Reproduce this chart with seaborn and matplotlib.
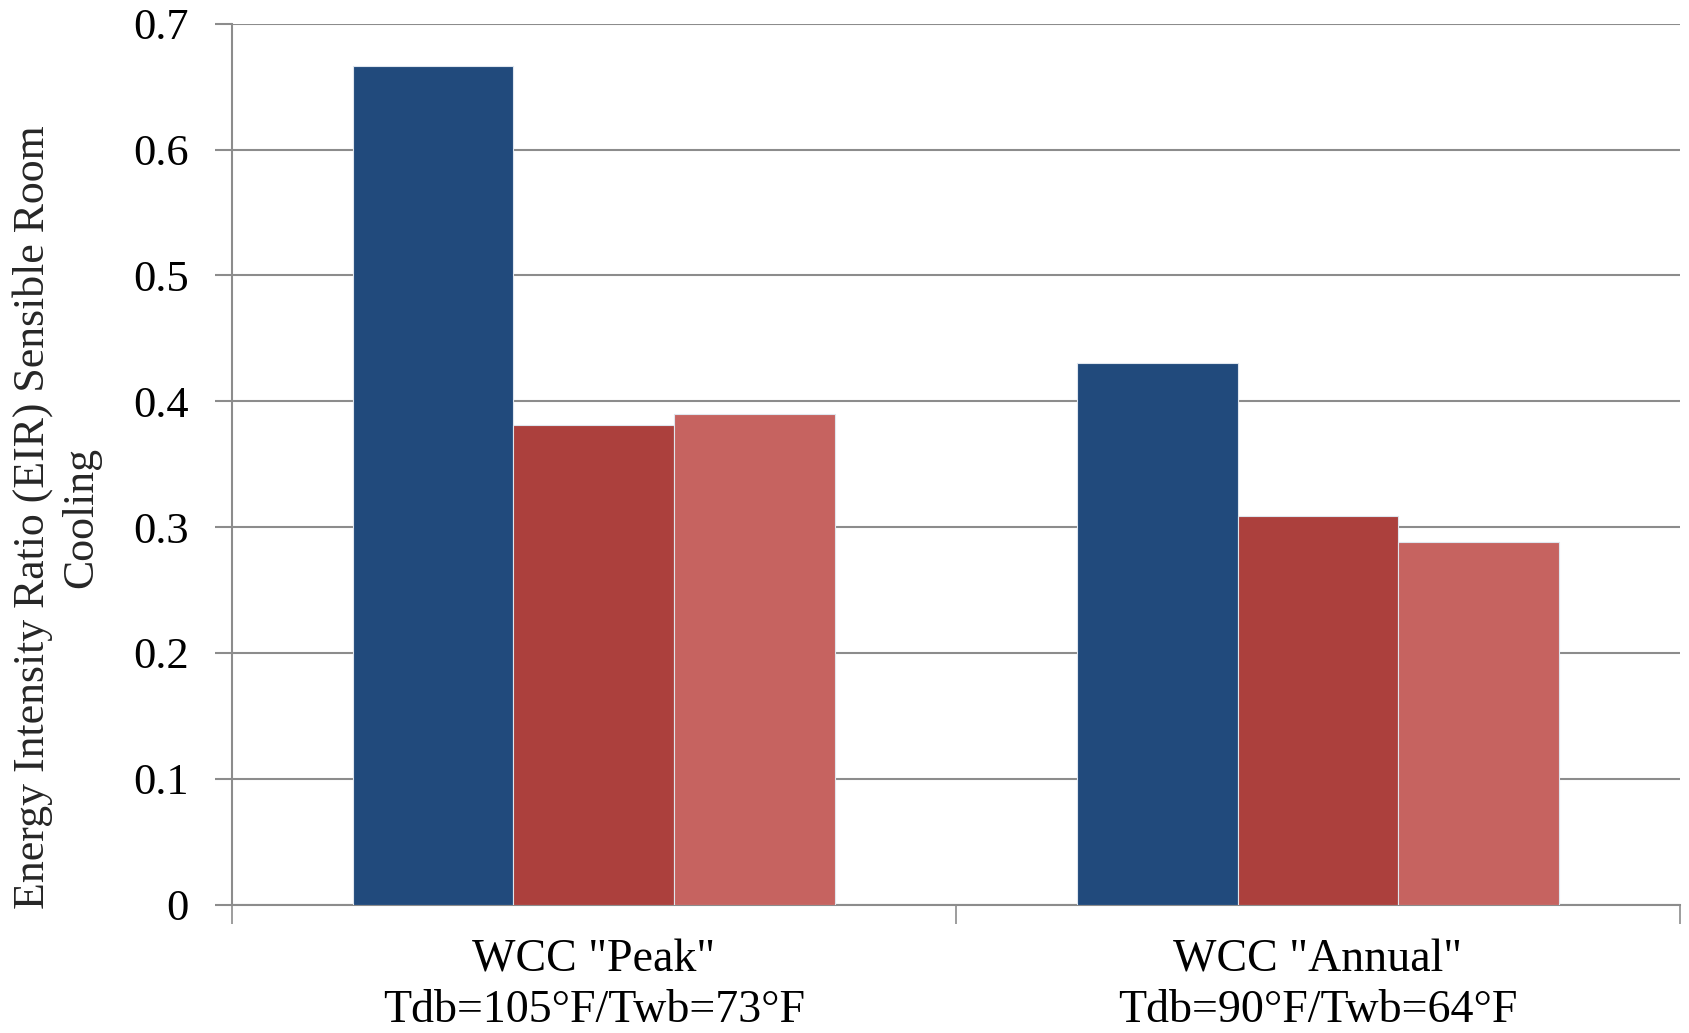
import pandas as pd
import matplotlib
matplotlib.use('Agg')
import matplotlib.pyplot as plt
import seaborn as sns

# 데이터
categories = ['WCC "Peak"\nTdb=105°F/Twb=73°F', 'WCC "Annual"\nTdb=90°F/Twb=64°F']
series_names = ['Series 1', 'Series 2', 'Series 3']
series_1 = [0.666, 0.430]
series_2 = [0.381, 0.309]
series_3 = [0.390, 0.288]
colors = ['#214A7C', '#AC403D', '#C66360']
yticks = [0, 0.1, 0.2, 0.3, 0.4, 0.5, 0.6, 0.7]
ytick_labels = ['0', '0.1', '0.2', '0.3', '0.4', '0.5', '0.6', '0.7']

rows = []
for name, vals in zip(series_names, [series_1, series_2, series_3]):
    for cat, v in zip(categories, vals):
        rows.append({'category': cat, 'series': name, 'value': v})
df = pd.DataFrame(rows)

sns.set_style('white')
plt.rcParams['font.family'] = ['Liberation Serif', 'DejaVu Serif']
plt.rcParams['text.color'] = 'black'

fig = plt.figure(figsize=(16.89, 10.33), dpi=100)
ax = fig.add_axes([0.1371, 0.1243, 0.9947 - 0.1371, 0.9771 - 0.1243])

sns.barplot(data=df, x='category', y='value', hue='series', palette=colors,
            width=0.666, gap=0, saturation=1, legend=False, ax=ax,
            edgecolor='#dfe6ee', linewidth=0.8, zorder=3)

ax.set_ylim(0, 0.7)
ax.set_xlim(-0.5, 1.5)
ax.set_yticks(yticks)
ax.set_yticklabels(ytick_labels, fontsize=32)
ax.yaxis.grid(True, color='#8c8c8c', linewidth=1.5, zorder=0)
ax.set_axisbelow(True)

for s in ['top', 'right']:
    ax.spines[s].set_visible(False)
for s in ['left', 'bottom']:
    ax.spines[s].set_color('#8c8c8c')
    ax.spines[s].set_linewidth(1.5)

ax.tick_params(axis='y', which='major', left=True, length=12, width=1.5,
               color='#8c8c8c', pad=19, labelcolor='black')
ax.tick_params(axis='x', which='major', length=0, pad=25, labelsize=33,
               labelcolor='black')
ax.set_xticks([-0.5, 0.5, 1.5], minor=True)
ax.tick_params(axis='x', which='minor', bottom=True, length=14, width=1.2,
               color='#8c8c8c')
for lbl in ax.get_xticklabels():
    lbl.set_linespacing(1.24)

ax.set_xlabel('')
ylab = ax.set_ylabel('Energy Intensity Ratio (EIR) Sensible Room\nCooling',
                     fontsize=33, linespacing=1.28)

# 첫 줄 길이가 약 786px 가 되도록 글자 크기 맞춤
probe = fig.text(0, 0, 'Energy Intensity Ratio (EIR) Sensible Room', fontsize=33)
fig.canvas.draw()
w = probe.get_window_extent().width
probe.remove()
ylab.set_fontsize(min(33, 33 * 786 / w))
ax.yaxis.set_label_coords(-0.090, 0.44)

fig.savefig('out.png', dpi=100)
